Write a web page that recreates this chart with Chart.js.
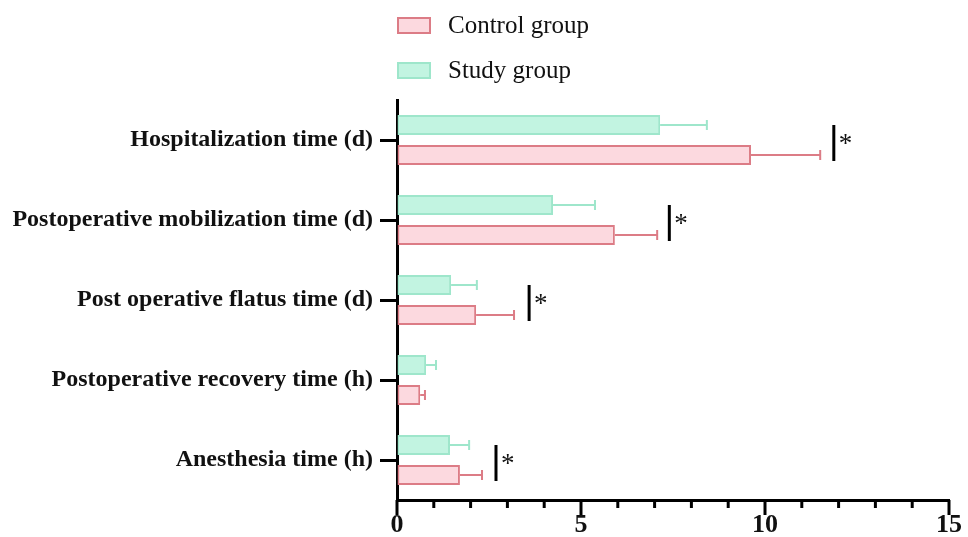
<!DOCTYPE html>
<html>
<head>
<meta charset="utf-8">
<script src="https://cdn.jsdelivr.net/npm/chart.js@4/dist/chart.umd.min.js"></script>
<style>
  html, body { margin: 0; padding: 0; background: #fff; }
  #wrap { position: relative; width: 968px; height: 537px; }
  #chart { position: absolute; left: 0; top: 0; }
  .legend { position: absolute; left: 397px; font-family: 'Liberation Serif', 'Times New Roman', serif; font-size: 25px; color: #111; }
  .legend .item { position: absolute; left: 0; white-space: nowrap; height: 30px; line-height: 30px; }
  .legend .sw { position: absolute; left: 0; top: 7px; width: 30px; height: 13px; border: 2px solid; }
  .legend .txt { position: absolute; left: 51px; top: 0; }
</style>
</head>
<body>
<div id="wrap">
  <canvas id="chart" width="968" height="537"></canvas>
  <div class="legend">
    <div class="item" style="top:10px"><span class="sw" style="background:#fcd9df;border-color:#dc7c86"></span><span class="txt">Control group</span></div>
    <div class="item" style="top:55px"><span class="sw" style="background:#c2f4e1;border-color:#9ee6cb"></span><span class="txt">Study group</span></div>
  </div>
</div>
<script>
// category labels, top to bottom
const categories = [
    'Hospitalization time (d)',
    'Postoperative mobilization time (d)',
    'Post operative flatus time (d)',
    'Postoperative recovery time (h)',
    'Anesthesia time (h)'
];

// means and upper error ends (mean + SD)
const studyMeans = [7.15, 4.24, 1.47, 0.79, 1.44];
const studyErrTop = [8.42, 5.38, 2.17, 1.06, 1.96];
const controlMeans = [9.62, 5.92, 2.15, 0.63, 1.71];
const controlErrTop = [11.5, 7.07, 3.18, 0.76, 2.31];

// x position of the significance bar (null = not significant)
const sigMarks = [11.87, 7.4, 3.59, null, 2.69];

const xTickLabels = [0, 5, 10, 15];

const studyFill = '#c2f4e1', studyLine = '#9ee6cb';
const controlFill = '#fcd9df', controlLine = '#dc7c86';

const serif = "'Liberation Serif', 'Times New Roman', serif";

// error bars, significance markers and the x axis tick marks
const extrasPlugin = {
    id: 'extras',
    afterDatasetsDraw(chart) {
        const ctx = chart.ctx;
        const xs = chart.scales.x;
        const errs = [studyErrTop, controlErrTop];
        const cols = [studyLine, controlLine];

        ctx.save();
        // error bars
        for (let d = 0; d < 2; d++) {
            const meta = chart.getDatasetMeta(d);
            meta.data.forEach((bar, i) => {
                const x0 = bar.x;
                const x1 = xs.getPixelForValue(errs[d][i]);
                const y = bar.y;
                ctx.strokeStyle = cols[d];
                ctx.lineWidth = 2;
                ctx.beginPath();
                ctx.moveTo(x0, y);
                ctx.lineTo(x1, y);
                ctx.moveTo(x1, y - 5);
                ctx.lineTo(x1, y + 5);
                ctx.stroke();
            });
        }

        // significance markers
        const studyMeta = chart.getDatasetMeta(0);
        const controlMeta = chart.getDatasetMeta(1);
        sigMarks.forEach((v, i) => {
            if (v === null) return;
            const x = xs.getPixelForValue(v);
            const yTop = studyMeta.data[i].y;
            const yBot = controlMeta.data[i].y + 6;
            ctx.strokeStyle = '#000';
            ctx.lineWidth = 3;
            ctx.beginPath();
            ctx.moveTo(x, yTop);
            ctx.lineTo(x, yBot);
            ctx.stroke();
            ctx.fillStyle = '#111';
            ctx.font = '27px ' + serif;
            ctx.textAlign = 'left';
            ctx.textBaseline = 'middle';
            ctx.fillText('*', x + 5, (yTop + yBot) / 2 + 2);
        });

        // x axis ticks: major every 5, minor every 1
        const yAxis = chart.chartArea.bottom;
        ctx.strokeStyle = '#000';
        ctx.lineWidth = 3;
        for (let v = 0; v <= 15; v++) {
            const px = xs.getPixelForValue(v);
            const len = v % 5 === 0 ? 15 : 8;
            ctx.beginPath();
            ctx.moveTo(px, yAxis);
            ctx.lineTo(px, yAxis + len);
            ctx.stroke();
        }
        ctx.restore();
    }
};

const ctx = document.getElementById('chart').getContext('2d');
new Chart(ctx, {
    type: 'bar',
    data: {
        labels: categories,
        datasets: [
            {
                label: 'Study group',
                data: studyMeans,
                backgroundColor: studyFill,
                borderColor: studyLine,
                borderWidth: 2,
                borderSkipped: false,
                categoryPercentage: 0.75,
                barPercentage: 0.66
            },
            {
                label: 'Control group',
                data: controlMeans,
                backgroundColor: controlFill,
                borderColor: controlLine,
                borderWidth: 2,
                borderSkipped: false,
                categoryPercentage: 0.75,
                barPercentage: 0.66
            }
        ]
    },
    options: {
        indexAxis: 'y',
        responsive: false,
        animation: false,
        layout: { padding: { top: 100, right: 19, left: 0, bottom: 0 } },
        plugins: {
            legend: { display: false },
            tooltip: { enabled: false }
        },
        scales: {
            x: {
                min: 0,
                max: 15,
                afterBuildTicks: (scale) => {
                    scale.ticks = xTickLabels.map(v => ({ value: v }));
                },
                afterFit: (scale) => {
                    scale.height = 37;
                    scale.paddingLeft = 0;
                    scale.paddingRight = 0;
                },
                grid: { display: true, drawOnChartArea: false, drawTicks: false },
                border: { display: true, color: '#000', width: 3 },
                ticks: {
                    padding: 10,
                    color: '#111',
                    font: { family: serif, size: 26, weight: 'bold' },
                    maxRotation: 0
                }
            },
            y: {
                afterFit: (scale) => { scale.width = 397; },
                grid: {
                    display: true,
                    offset: false,
                    drawOnChartArea: false,
                    tickLength: 17,
                    tickWidth: 3,
                    tickColor: '#000'
                },
                border: { display: true, color: '#000', width: 3 },
                ticks: {
                    padding: 7,
                    color: '#111',
                    font: { family: serif, size: 24, weight: 'bold' }
                }
            }
        }
    },
    plugins: [extrasPlugin]
});
</script>
</body>
</html>
